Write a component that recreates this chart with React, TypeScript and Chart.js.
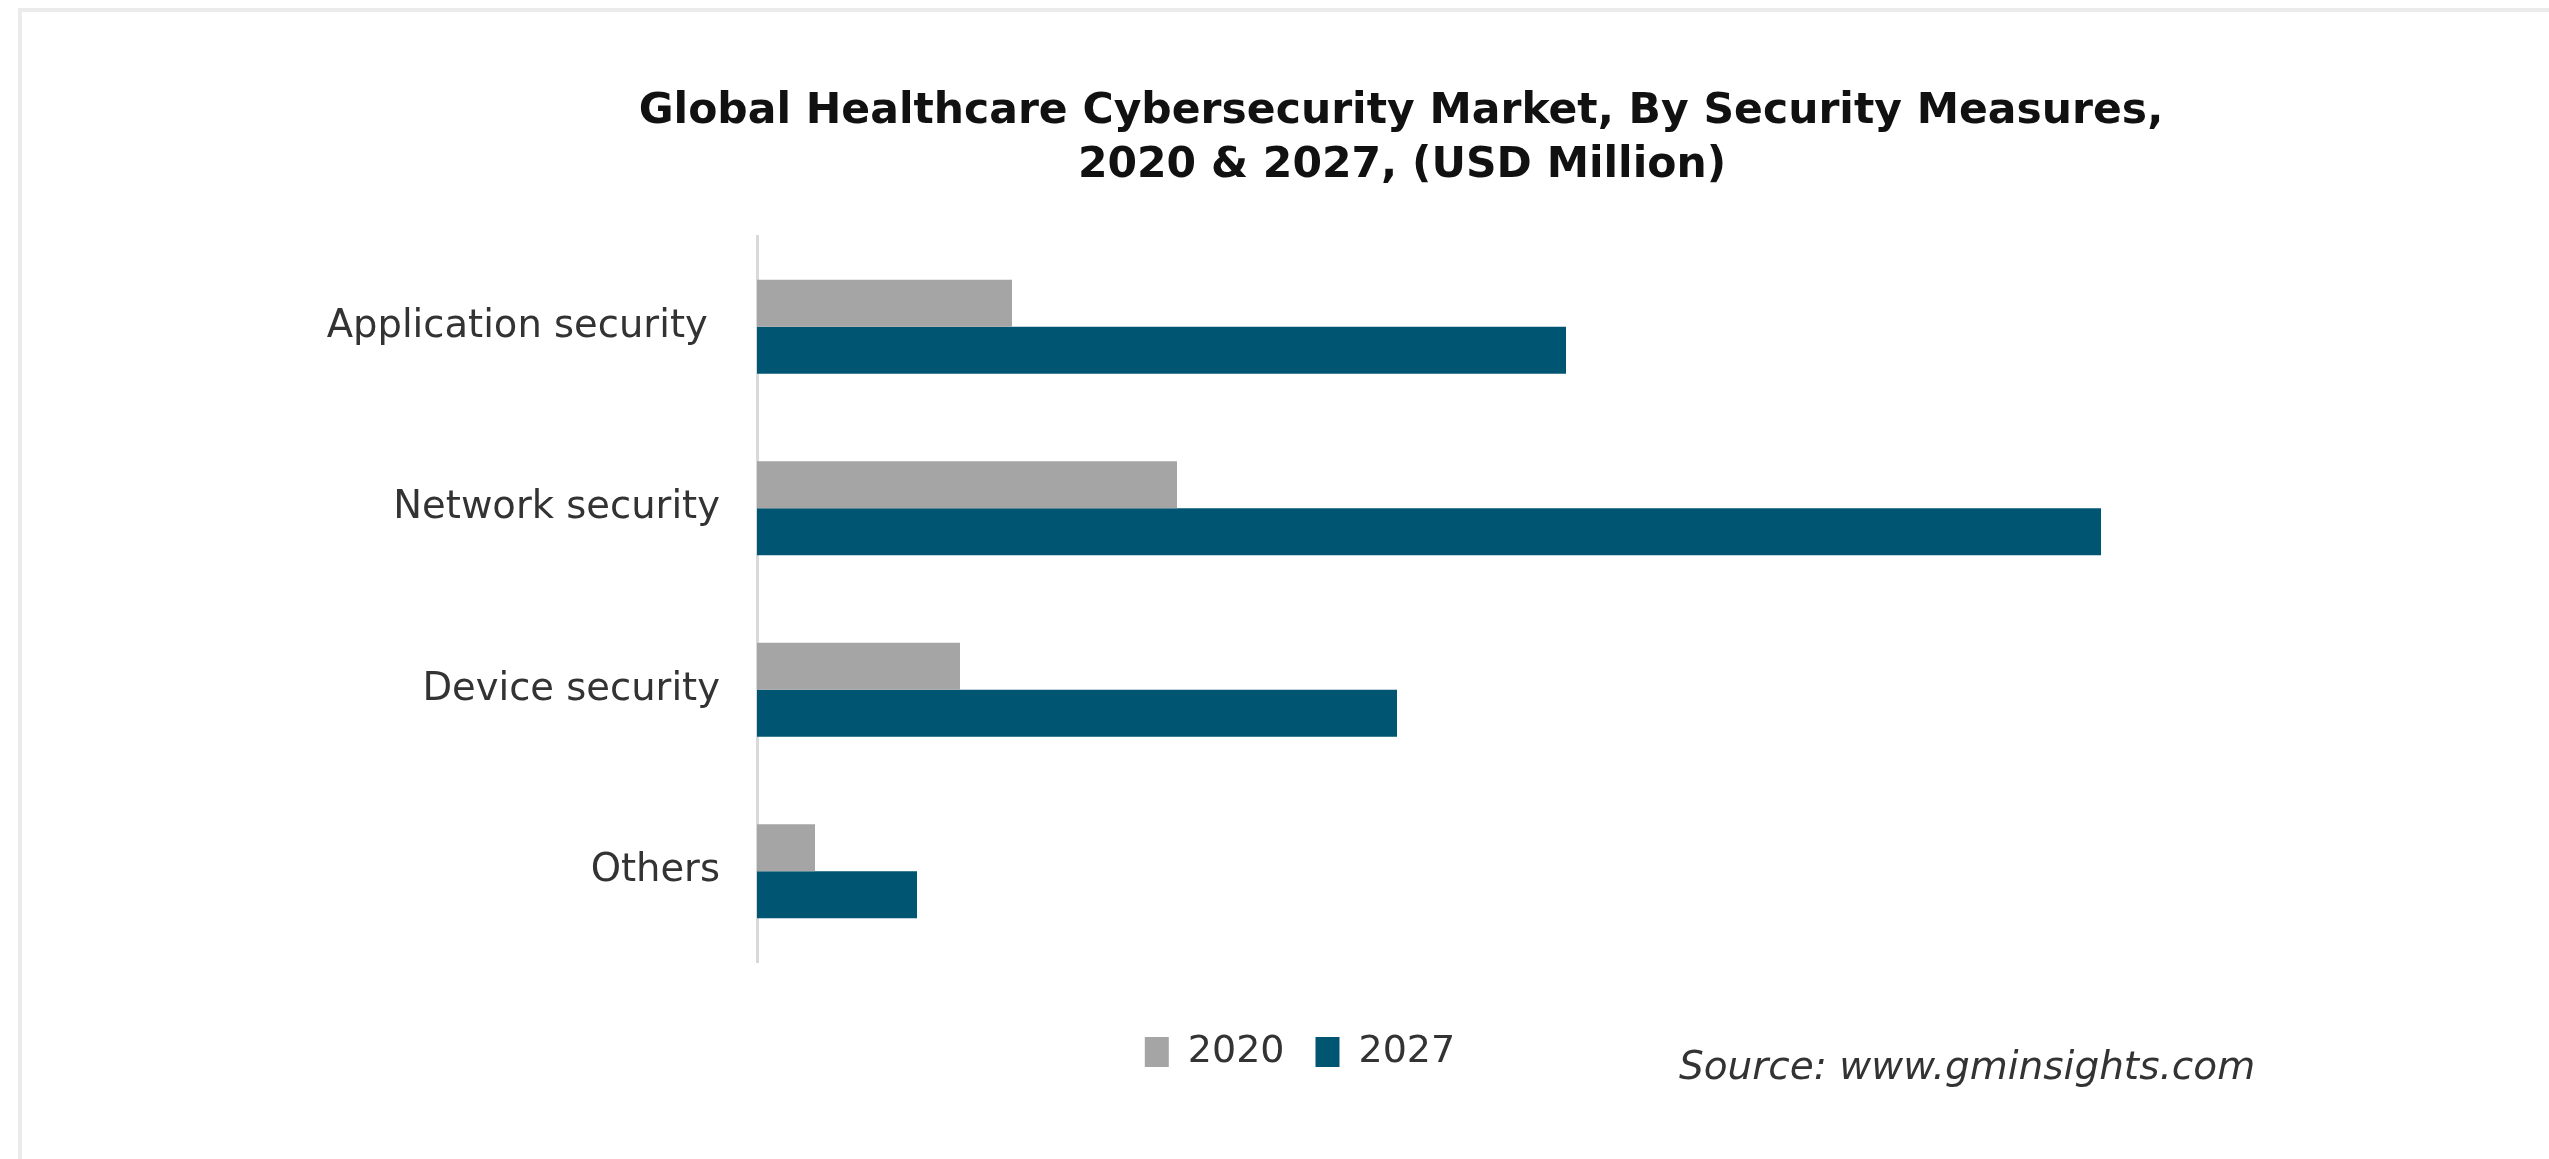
import React, { useEffect, useRef } from "react";
import { Chart, registerables } from "chart.js";

Chart.register(...registerables);

const categories = ["Application security ", "Network security", "Device security", "Others"];
const seriesLabels = ["2020", "2027"];
const values2020 = [2550, 4200, 2030, 580];
const values2027 = [8090, 13440, 6400, 1600];
const seriesColors = ["#a5a5a5", "#005573"];
const titleLines = [
  "Global Healthcare Cybersecurity Market, By Security Measures,",
  "2020 & 2027, (USD Million)",
];
const sourceText = "Source: www.gminsights.com";
const xMax = 16000;

const FONT = "'DejaVu Sans', Verdana, sans-serif";

const decorPlugin = {
  id: "decor",
  beforeDraw(chart: any) {
    const ctx = chart.ctx as CanvasRenderingContext2D;
    ctx.save();
    ctx.fillStyle = "#ffffff";
    ctx.fillRect(0, 0, chart.width, chart.height);
    ctx.fillStyle = "#ebebeb";
    ctx.fillRect(18, 8, chart.width - 18, 4);
    ctx.fillRect(18, 8, 4, chart.height - 8);
    ctx.restore();
  },
  afterDraw(chart: any) {
    const ctx = chart.ctx as CanvasRenderingContext2D;
    ctx.save();
    ctx.fillStyle = "#111111";
    ctx.textAlign = "center";
    ctx.textBaseline = "alphabetic";
    ctx.font = `bold 42.5px ${FONT}`;
    ctx.fillText(titleLines[0], 1401, 123);
    ctx.fillText(titleLines[1], 1402, 177);
    ctx.fillStyle = "#333333";
    ctx.textAlign = "left";
    ctx.font = `italic 39px ${FONT}`;
    ctx.fillText(sourceText, 1679, 1079);
    ctx.restore();
  },
};

export default function App() {
  const canvasRef = useRef<HTMLCanvasElement | null>(null);

  useEffect(() => {
    if (!canvasRef.current) return;
    const chart = new Chart(canvasRef.current, {
      type: "bar",
      data: {
        labels: categories,
        datasets: [
          {
            label: seriesLabels[0],
            data: values2020,
            backgroundColor: seriesColors[0],
            borderWidth: 0,
            categoryPercentage: 0.518,
            barPercentage: 1,
          },
          {
            label: seriesLabels[1],
            data: values2027,
            backgroundColor: seriesColors[1],
            borderWidth: 0,
            categoryPercentage: 0.518,
            barPercentage: 1,
          },
        ],
      },
      options: {
        indexAxis: "y",
        animation: false,
        responsive: false,
        devicePixelRatio: 1,
        layout: { padding: { left: 243, right: 192, top: 236, bottom: 78 } },
        scales: {
          x: { display: false, min: 0, max: xMax },
          y: {
            type: "category",
            offset: true,
            grid: { display: false, drawTicks: false },
            border: { display: true, color: "#d9d9d9", width: 3 },
            ticks: {
              font: { family: FONT, size: 38.5 },
              color: "#333333",
              padding: 37,
            },
            afterFit: (s: any) => {
              s.width = 514;
            },
          },
        },
        plugins: {
          legend: {
            position: "bottom",
            labels: {
              boxWidth: 24,
              boxHeight: 30,
              padding: 31,
              font: { family: FONT, size: 38 },
              color: "#333333",
            },
            title: {
              display: true,
              text: " ",
              font: { size: 10 },
              padding: { top: 28, bottom: 0 },
            },
          },
          tooltip: { enabled: false },
          title: { display: false },
        },
      } as any,
      plugins: [decorPlugin],
    });
    return () => chart.destroy();
  }, []);

  return (
    <div
      style={{
        position: "fixed",
        left: 0,
        top: 0,
        width: 2549,
        height: 1159,
        background: "#ffffff",
      }}
    >
      <canvas ref={canvasRef} width={2549} height={1159} style={{ display: "block" }} />
    </div>
  );
}
